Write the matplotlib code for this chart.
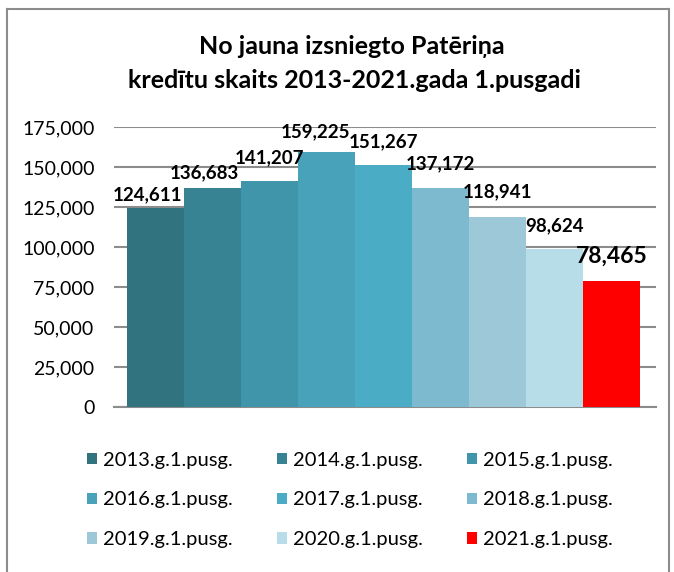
import numpy as np
import matplotlib.pyplot as plt
from matplotlib.lines import Line2D
from matplotlib.ticker import FuncFormatter, MultipleLocator

plt.rcParams['font.family'] = ['Lato', 'DejaVu Sans']

# data
periods = ["2013.g.1.pusg.", "2014.g.1.pusg.", "2015.g.1.pusg.",
           "2016.g.1.pusg.", "2017.g.1.pusg.", "2018.g.1.pusg.",
           "2019.g.1.pusg.", "2020.g.1.pusg.", "2021.g.1.pusg."]
credits = [124611, 136683, 141207, 159225, 151267, 137172, 118941, 98624, 78465]

colors = ["#31737F", "#378394", "#4095AB", "#48A2B9", "#4BACC6",
          "#7DB9CF", "#9DC8D8", "#B6DDE8", "#FF0000"]
# label nudges in pixels (dx, gap above bar)
label_dx = [-8, -8, 0, -11, 0, 0, 0, 0, 0]
label_gap = [7, 10, 18, 15, 18, 18, 19, 18, 19]

W, H = 674, 572
fig = plt.figure(figsize=(W/100, H/100), dpi=100, facecolor='white')
ax = fig.add_axes([114/W, (H-407)/H, (656-114)/W, 280/H])

x = np.arange(len(credits))
bars = []
for i, (p, v) in enumerate(zip(periods, credits)):
    b = ax.bar(x[i], v, width=1.0, color=colors[i], label=p, zorder=3)
    bars.append(b)

ax.set_xlim(-0.5-13/57, 8.5+16/57)
ax.set_ylim(0, 175000)
ax.yaxis.set_major_locator(MultipleLocator(25000))
ax.yaxis.set_major_formatter(FuncFormatter(lambda v, pos: f"{int(v):,}"))
ax.set_xticks([])
ax.tick_params(axis='y', length=0, pad=14, labelsize=14)
ax.grid(axis='y', color='#8c8c8c', lw=1.5, zorder=0)
for s in ['top', 'right', 'left']:
    ax.spines[s].set_visible(False)
ax.spines['bottom'].set_color('#8c8c8c')
ax.spines['bottom'].set_linewidth(1.5)

for i, v in enumerate(credits):
    big = i == len(credits) - 1
    ax.annotate(f"{v:,}", (x[i], v), xytext=(label_dx[i]*0.72, label_gap[i]*0.72),
                textcoords='offset points', ha='center', va='baseline',
                fontsize=16.5 if big else 13.5, fontweight='bold', zorder=5)

fig.text(352/W, 1-47/H, "No jauna izsniegto Patēriņa", ha='center', va='center',
         fontsize=18, fontweight='bold')
fig.text(355/W, 1-80/H, "kredītu skaits 2013-2021.gada 1.pusgadi", ha='center', va='center',
         fontsize=18, fontweight='bold')

order = [0, 3, 6, 1, 4, 7, 2, 5, 8]
handles = [bars[i] for i in order]
labels = [periods[i] for i in order]
fig.legend(handles, labels, ncol=3, loc='center', bbox_to_anchor=(350/W, 1-500/H),
           frameon=False, fontsize=14.5, handlelength=0.5, handleheight=0.5,
           handletextpad=0.3, columnspacing=2.2, labelspacing=1.13)

# chart border
for xs, ys in [([7/W, 7/W], [0, 1-9/H]), ([7/W, 669/W], [1-9/H, 1-9/H]),
               ([669/W, 669/W], [0, 1-9/H])]:
    fig.add_artist(Line2D(xs, ys, color='#8c8c8c', lw=1.5))

fig.savefig("out.png", dpi=100, facecolor='white')
